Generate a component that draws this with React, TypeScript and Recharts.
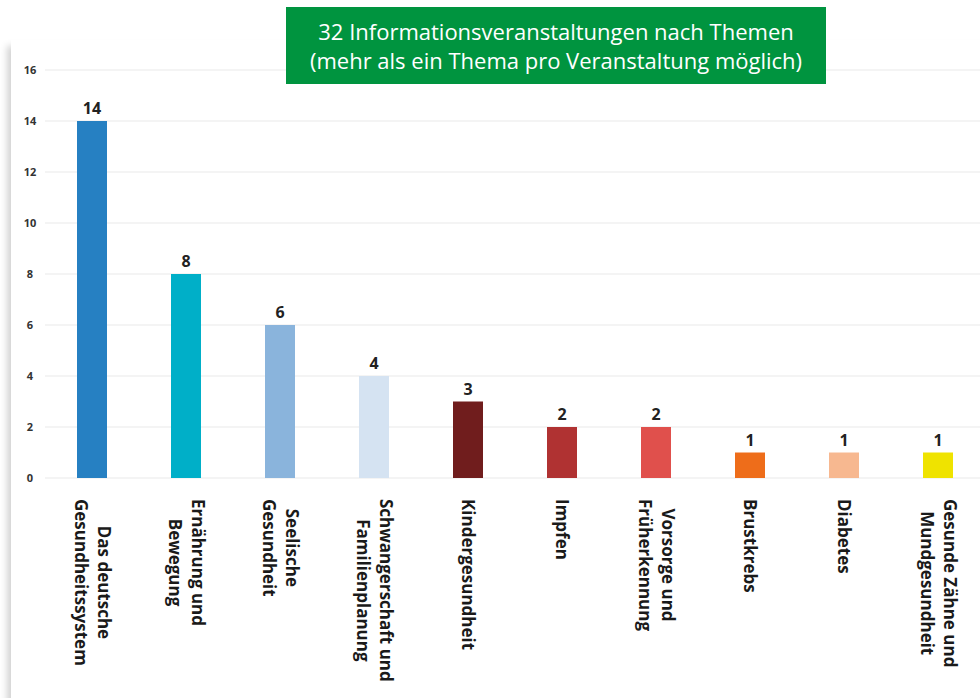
import { Bar, BarChart, CartesianGrid, Cell, LabelList, XAxis, YAxis } from 'recharts'

const topics = [
  'Das deutsche\nGesundheitssystem',
  'Ernährung und\nBewegung',
  'Seelische\nGesundheit',
  'Schwangerschaft und\nFamilienplanung',
  'Kindergesundheit',
  'Impfen',
  'Vorsorge und\nFrüherkennung',
  'Brustkrebs',
  'Diabetes',
  'Gesunde Zähne und\nMundgesundheit',
]
const counts = [14, 8, 6, 4, 3, 2, 2, 1, 1, 1]
const barColors = [
  '#2680c2',
  '#00afc8',
  '#8ab4dc',
  '#d5e3f2',
  '#701d1d',
  '#b03232',
  '#e0504c',
  '#ee6d1a',
  '#f7b890',
  '#efe300',
]
const yTicks = [0, 2, 4, 6, 8, 10, 12, 14, 16]

const data = topics.map((topic, i) => ({ topic, count: counts[i] }))

const labelFont = '700 17px "Open Sans"'
let canvasCtx: CanvasRenderingContext2D | null = null
const measure = (text: string) => {
  if (!canvasCtx) canvasCtx = document.createElement('canvas').getContext('2d')
  if (!canvasCtx) return text.length * 9.5
  canvasCtx.font = labelFont
  return canvasCtx.measureText(text).width
}

const TopicTick = ({ x, y, payload }: any) => {
  const lines = String(payload.value).split('\n')
  const maxW = Math.max(...lines.map(measure))
  const lh = 23
  const start = -((lines.length - 1) * lh) / 2
  return (
    <g transform={`translate(${x},${y + 13}) rotate(90)`}>
      {lines.map((line, i) => (
        <text
          key={i}
          x={maxW / 2}
          y={start + i * lh + 6}
          textAnchor='middle'
          fill='#1a1a1a'
          style={{ font: labelFont }}
        >
          {line}
        </text>
      ))}
    </g>
  )
}

const CountTick = ({ y, payload }: any) => (
  <text
    x={30}
    y={y + 4}
    textAnchor='middle'
    fill='#333'
    fontSize={11}
    fontWeight={700}
    fontFamily='"Open Sans", sans-serif'
  >
    {payload.value}
  </text>
)

export default function App() {
  return (
    <div
      style={{
        position: 'absolute',
        left: 0,
        top: 0,
        width: 980,
        height: 698,
        overflow: 'hidden',
        background: '#fff',
      }}
    >
      <div
        style={{
          position: 'absolute',
          left: 11,
          top: 40,
          width: 1000,
          height: 700,
          background: '#fff',
          boxShadow: '-6px 4px 7px -2px rgba(0,0,0,0.18)',
        }}
      />
      <div style={{ position: 'absolute', left: 0, top: 0 }}>
        <BarChart
          width={985}
          height={698}
          data={data}
          margin={{ top: 70, right: 0, bottom: 10, left: 10 }}
          barCategoryGap={32}
        >
          <CartesianGrid vertical={false} stroke='#f1f1f1' strokeWidth={1.5} />
          <XAxis
            dataKey='topic'
            interval={0}
            height={210}
            axisLine={false}
            tickLine={false}
            tick={<TopicTick />}
          />
          <YAxis
            width={35}
            domain={[0, 16]}
            ticks={yTicks}
            axisLine={false}
            tickLine={false}
            tick={<CountTick />}
          />
          <Bar dataKey='count' isAnimationActive={false}>
            {data.map((d, i) => (
              <Cell key={d.topic} fill={barColors[i]} />
            ))}
            <LabelList
              dataKey='count'
              position='top'
              offset={7}
              fill='#222'
              fontSize={16}
              fontWeight={700}
              fontFamily='"Open Sans", sans-serif'
            />
          </Bar>
        </BarChart>
      </div>
      <div
        style={{
          position: 'absolute',
          left: 286,
          top: 7,
          width: 540,
          height: 77,
          background: '#00943f',
          color: '#fff',
          fontFamily: '"Open Sans", sans-serif',
          fontSize: 22,
          lineHeight: '29px',
          textAlign: 'center',
          paddingTop: 10,
          boxSizing: 'border-box',
        }}
      >
        32 Informationsveranstaltungen nach Themen
        <br />
        (mehr als ein Thema pro Veranstaltung möglich)
      </div>
    </div>
  )
}
